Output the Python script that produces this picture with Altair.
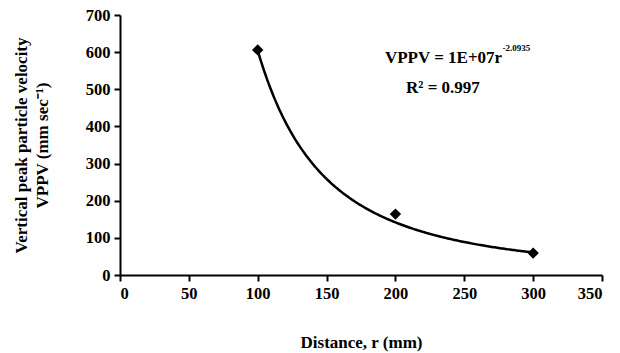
import altair as alt
import pandas as pd

# Measured vertical peak particle velocity at each distance
distance_mm = [100, 200, 300]
vppv_mm_s = [606, 164, 59]

# Power-law trendline VPPV = a * r^b (a shown rounded as 1E+07)
coef_a = 9.3e6
exp_b = -2.0935
r_min, r_max = 100, 300

x_ticks = [0, 50, 100, 150, 200, 250, 300, 350]
y_ticks = [0, 100, 200, 300, 400, 500, 600, 700]

FONT = "Liberation Serif"

points = pd.DataFrame({"r": distance_mm, "v": vppv_mm_s})

x_scale = alt.Scale(domain=[0, 350], nice=False, zero=True)
y_scale = alt.Scale(domain=[0, 700], nice=False, zero=True)

x_axis = alt.Axis(
    values=x_ticks, title="Distance, r (mm)", grid=False,
    titlePadding=33, labelPadding=4, labelOverlap=False,
)
y_axis = alt.Axis(
    values=y_ticks,
    title=["Vertical peak particle velocity", "VPPV (mm sec⁻¹)"],
    grid=False, titleAngle=-90, titleX=-99, titleY=130,
    titleBaseline="middle", titleAlign="center", titleLineHeight=21,
    labelPadding=4, labelOverlap=False,
)


def X(field):
    return alt.X(field, scale=x_scale, axis=x_axis)


def Y(field):
    return alt.Y(field, scale=y_scale, axis=y_axis)


def xd(v):
    return alt.XDatum(v, scale=x_scale, axis=x_axis)


def yd(v):
    return alt.YDatum(v, scale=y_scale, axis=y_axis)


curve = (
    alt.Chart(alt.sequence(r_min, r_max + 1, 1, as_="r"))
    .transform_calculate(v=f"{coef_a} * pow(datum.r, {exp_b})")
    .mark_line(color="black", strokeWidth=2.5)
    .encode(x=X("r:Q"), y=Y("v:Q"))
)

markers = (
    alt.Chart(points)
    .mark_point(shape="diamond", filled=True, color="black", size=130, opacity=1)
    .encode(x=X("r:Q"), y=Y("v:Q"))
)

eq_main = alt.Chart().mark_text(
    text="VPPV = 1E+07r", font=FONT, fontSize=17, fontWeight="bold",
    align="right", baseline="middle", color="black",
).encode(x=xd(277.5), y=yd(584))

eq_sup = alt.Chart().mark_text(
    text="-2.0935", font=FONT, fontSize=9, fontWeight="bold", align="left",
    baseline="middle", color="black",
).encode(x=xd(277.8), y=yd(610))

eq_r2 = alt.Chart().mark_text(
    text="R² = 0.997", font=FONT, fontSize=17, fontWeight="bold",
    align="center", baseline="middle", color="black",
).encode(x=xd(234.5), y=yd(503))

chart = (
    alt.layer(curve, markers, eq_main, eq_sup, eq_r2)
    .properties(
        width=482, height=260,
        autosize=alt.AutoSizeParams(type="none"),
        padding={"left": 120, "top": 15, "right": 18, "bottom": 78},
    )
    .configure_view(stroke=None)
    .configure_axis(
        domainColor="black", domainWidth=2, tickColor="black", tickWidth=2,
        tickSize=6, labelFont=FONT, labelFontSize=16.5, labelFontWeight="bold",
        labelColor="black", titleFont=FONT, titleFontSize=17,
        titleFontWeight="bold", titleColor="black",
    )
)

chart.save("out.html", embed_options={"renderer": "svg", "actions": False})
